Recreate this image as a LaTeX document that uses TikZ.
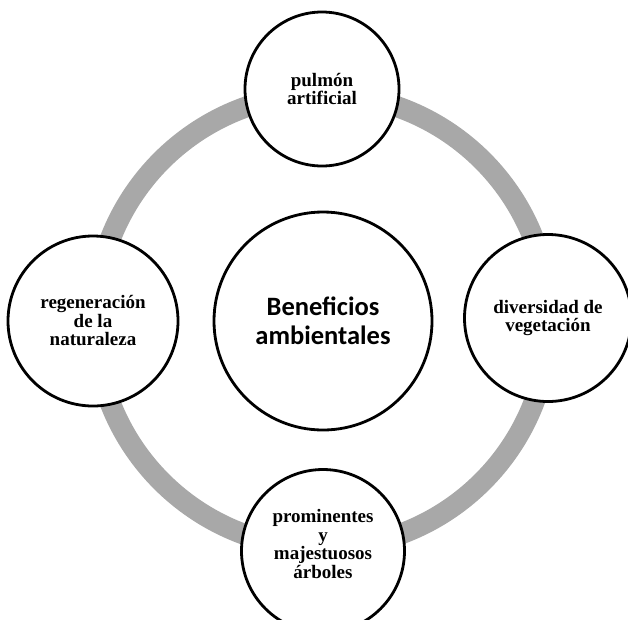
\documentclass[tikz,border=0pt]{standalone}
\usepackage{fontspec}
\setmainfont{Liberation Serif}
\newfontfamily\calib{Carlito}
\begin{document}
\begin{tikzpicture}[x=1pt,y=-1pt,
  bubble/.style={circle,draw=black,line width=2.8pt,fill=white,inner sep=0pt,minimum size=#1,
    align=center,font=\fontsize{19}{18.5}\selectfont\bfseries},
  ringline/.style={draw=black!34,line width=21pt}]
\useasboundingbox (0,0) rectangle (628,619);
\coordinate (o) at (322,321);
\draw[ringline] (o) circle[radius=227];
\node[bubble=218pt,font=\calib\fontsize{26.5}{29}\selectfont\bfseries] (c) at (323,321) {Beneficios\\ambientales};
\node[bubble=154pt] (t) at (322,89) {pulmón\\artificial};
\node[bubble=167pt] (r) at (548,318) {diversidad de\\vegetación};
\node[bubble=163pt] (b) at (323,551) {};
\node[align=center,font=\fontsize{19}{18.5}\selectfont\bfseries] (bt) at (323,544) {prominentes\\y\\majestuosos\\árboles};
\node[bubble=170pt] (l) at (93,321) {regeneración\\de la\\naturaleza};
\end{tikzpicture}
\end{document}
